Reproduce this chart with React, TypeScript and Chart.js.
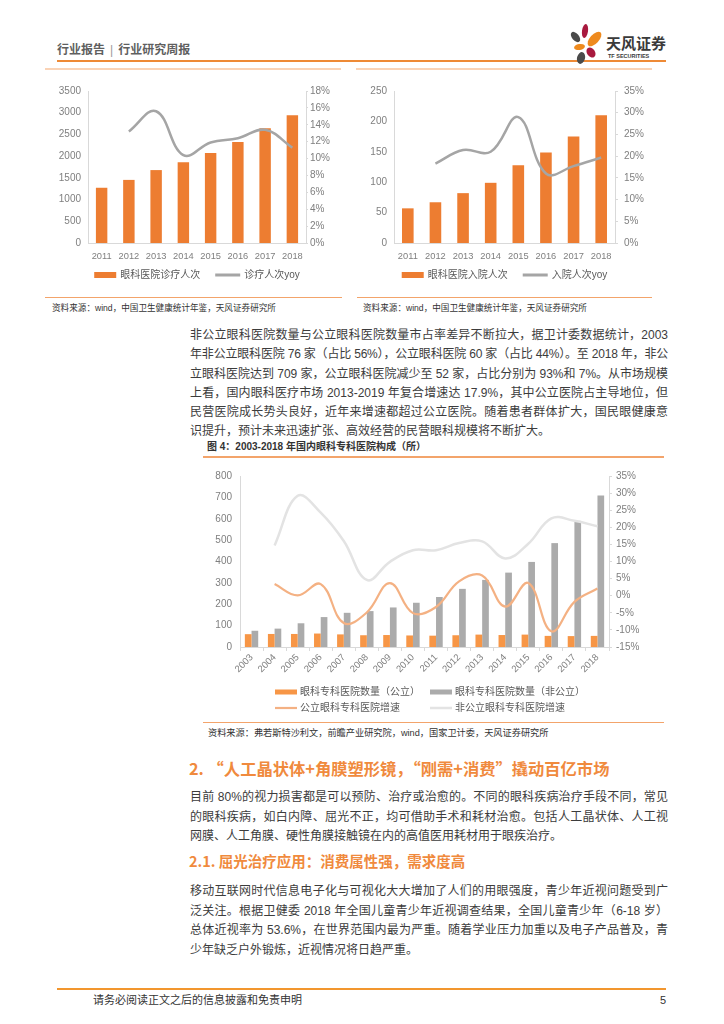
import React, { useEffect, useLayoutEffect, useRef } from 'react';
import { Chart, registerables } from 'chart.js';

Chart.register(...registerables);

// ---------------- data ----------------
const years1 = ['2011', '2012', '2013', '2014', '2015', '2016', '2017', '2018'];
const visitCounts = [1272, 1453, 1679, 1859, 2070, 2326, 2642, 2943];
const visitYoy = [null, 13.2, 15.6, 10.4, 11.9, 12.4, 13.4, 11.3];
const inpatientCounts = [57, 67, 82, 99, 128, 149, 175, 210];
const inpatientYoy = [null, 18.3, 21.4, 21.0, 29.0, 16.0, 17.7, 19.7];

const years3 = ['2003', '2004', '2005', '2006', '2007', '2008', '2009', '2010', '2011', '2012', '2013', '2014', '2015', '2016', '2017', '2018'];
const publicHospitals = [60, 61, 61, 63, 59, 55, 56, 54, 53, 55, 58, 56, 58, 52, 51, 52];
const privateHospitals = [76, 86, 111, 140, 160, 168, 185, 207, 234, 272, 314, 348, 398, 486, 590, 709];
const publicGrowth = [null, 3.4, 0.1, 3.4, -8.0, -4.9, 3.7, -5.1, -3.3, 4.2, 5.9, -3.2, 3.7, -10.4, -1.8, 2.1];
const privateGrowth = [null, 14.7, 29.2, 24.3, 16.0, 4.6, 9.9, 13.3, 13.3, 15.4, 15.9, 10.9, 15.2, 22.6, 21.9, 20.3];

const legend1 = ['眼科医院诊疗人次', '诊疗人次yoy'];
const legend2 = ['眼科医院入院人次', '入院人次yoy'];
const legend3 = ['眼科专科医院数量（公立）', '眼科专科医院数量（非公立）', '公立眼科专科医院增速', '非公立眼科专科医院增速'];

// ---------------- styles ----------------
const FONT = '"Liberation Sans", "Noto Sans CJK SC", sans-serif';
const CJK = '"Noto Sans CJK SC", "Liberation Sans", sans-serif';
Chart.defaults.font.family = FONT;
const AXIS = '#D9D9D9';
const TICK = '#7F7F7F';
const ORANGE = '#ED7D31';
const LEGEND_TEXT = '#595959';

// single-row legend centred under the plot area
const rowLegend = {
  id: 'rowLegend',
  afterDraw(chart: any) {
    const { ctx, chartArea } = chart;
    const ds = chart.data.datasets;
    ctx.save();
    ctx.font = '10px ' + FONT;
    ctx.textBaseline = 'middle';
    ctx.textAlign = 'left';
    const keyW = (d: any) => (d.type === 'bar' ? 22 : 25);
    const gapText = 4;
    const gapItem = 15;
    const widths = ds.map((d: any) => keyW(d) + gapText + ctx.measureText(d.label).width);
    const total = widths.reduce((a: number, b: number) => a + b, 0) + gapItem * (ds.length - 1);
    let x = (chartArea.left + chartArea.right) / 2 - total / 2;
    const y = chartArea.bottom + 32;
    ds.forEach((d: any, i: number) => {
      if (d.type === 'bar') {
        ctx.fillStyle = d.backgroundColor;
        ctx.fillRect(x, y - 3, 22, 6);
      } else {
        ctx.strokeStyle = d.borderColor;
        ctx.lineWidth = 3;
        ctx.beginPath();
        ctx.moveTo(x, y);
        ctx.lineTo(x + 25, y);
        ctx.stroke();
      }
      ctx.fillStyle = LEGEND_TEXT;
      ctx.fillText(d.label, x + keyW(d) + gapText, y);
      x += widths[i] + gapItem;
    });
    ctx.restore();
  },
};

type TopOpts = {
  labels: string[]; bars: number[]; line: (number | null)[]; names: string[];
  leftMax: number; leftStep: number; rightMax: number; rightStep: number;
  leftW: number; rightW: number; rightTick: number; rightPad: number;
};

const topConfig = (o: TopOpts): any => ({
  type: 'bar',
  data: {
    labels: o.labels,
    datasets: [
      {
        type: 'bar', label: o.names[0], data: o.bars, backgroundColor: ORANGE, yAxisID: 'y',
        categoryPercentage: 1, barPercentage: 0.42, order: 2,
      },
      {
        type: 'line', label: o.names[1], data: o.line, borderColor: '#A5A5A5', backgroundColor: '#A5A5A5',
        borderWidth: 2.5, pointRadius: 0, tension: 0.4, yAxisID: 'y1', order: 1,
      },
    ],
  },
  options: {
    animation: false, responsive: false, maintainAspectRatio: false,
    layout: { padding: { top: 10, left: 0, right: 0, bottom: 25 } },
    plugins: { tooltip: { enabled: false }, legend: { display: false } },
    scales: {
      x: {
        grid: { display: false, drawTicks: false }, border: { color: AXIS },
        ticks: { color: TICK, font: { size: 9.3 }, padding: 8, maxRotation: 0, minRotation: 0, autoSkip: false },
        afterFit: (s: any) => { s.height = 22; },
      },
      y: {
        position: 'left', min: 0, max: o.leftMax,
        ticks: { stepSize: o.leftStep, color: TICK, font: { size: 10 }, padding: 7, callback: (v: any) => String(v) },
        grid: { display: false, drawTicks: false }, border: { color: AXIS },
        afterFit: (s: any) => { s.width = o.leftW; },
      },
      y1: {
        position: 'right', min: 0, max: o.rightMax,
        ticks: { stepSize: o.rightStep, color: TICK, font: { size: 10 }, padding: o.rightPad, callback: (v: any) => v + '%' },
        grid: { drawOnChartArea: false, tickLength: o.rightTick, color: AXIS }, border: { color: AXIS },
        afterFit: (s: any) => { s.width = o.rightW; },
      },
    },
  },
  plugins: [rowLegend],
});

// two-by-two legend under the plot area
const gridLegend = {
  id: 'gridLegend',
  afterDraw(chart: any) {
    const { ctx, chartArea } = chart;
    const cols = [chartArea.left + 35, chartArea.left + 190];
    const rows = [chartArea.bottom + 45, chartArea.bottom + 61];
    ctx.save();
    ctx.font = '10px ' + FONT;
    ctx.textBaseline = 'middle';
    ctx.textAlign = 'left';
    chart.data.datasets.forEach((ds: any, i: number) => {
      const x = cols[i % 2];
      const y = rows[Math.floor(i / 2)];
      if (ds.type === 'bar') {
        ctx.fillStyle = ds.backgroundColor;
        ctx.fillRect(x, y - 2.5, 22, 5);
      } else {
        ctx.strokeStyle = ds.borderColor;
        ctx.lineWidth = ds.borderWidth;
        ctx.beginPath();
        ctx.moveTo(x, y);
        ctx.lineTo(x + 22, y);
        ctx.stroke();
      }
      ctx.fillStyle = LEGEND_TEXT;
      ctx.fillText(ds.label, x + 25, y);
    });
    ctx.restore();
  },
};

const bottomConfig = (): any => ({
  type: 'bar',
  data: {
    labels: years3,
    datasets: [
      { type: 'bar', label: legend3[0], data: publicHospitals, backgroundColor: '#F79646', categoryPercentage: 0.58, barPercentage: 1, yAxisID: 'y', order: 2 },
      { type: 'bar', label: legend3[1], data: privateHospitals, backgroundColor: '#ABABAB', categoryPercentage: 0.58, barPercentage: 1, yAxisID: 'y', order: 2 },
      { type: 'line', label: legend3[2], data: publicGrowth, borderColor: '#F4B183', borderWidth: 2.2, pointRadius: 0, tension: 0.4, yAxisID: 'y1', order: 1 },
      { type: 'line', label: legend3[3], data: privateGrowth, borderColor: '#E3E3E3', borderWidth: 2.5, pointRadius: 0, tension: 0.4, yAxisID: 'y1', order: 1 },
    ],
  },
  options: {
    animation: false, responsive: false, maintainAspectRatio: false,
    layout: { padding: { top: 10, left: 0, right: 0, bottom: 41 } },
    plugins: { legend: { display: false }, tooltip: { enabled: false } },
    scales: {
      x: {
        grid: { display: true, drawOnChartArea: false, tickLength: 4, color: AXIS, offset: true },
        border: { color: AXIS },
        ticks: { color: TICK, font: { size: 9.5 }, minRotation: 45, maxRotation: 45, autoSkip: false, padding: 1 },
        afterFit: (s: any) => { s.height = 30; },
      },
      y: {
        position: 'left', min: 0, max: 800,
        ticks: { stepSize: 100, color: TICK, font: { size: 10 }, padding: 8, callback: (v: any) => String(v) },
        grid: { display: false, drawTicks: false }, border: { color: AXIS },
        afterFit: (s: any) => { s.width = 35; },
      },
      y1: {
        position: 'right', min: -15, max: 35,
        ticks: { stepSize: 5, color: TICK, font: { size: 10 }, padding: 4, callback: (v: any) => v + '%' },
        grid: { drawOnChartArea: false, tickLength: 3, color: AXIS }, border: { color: AXIS },
        afterFit: (s: any) => { s.width = 51; },
      },
    },
  },
  plugins: [gridLegend],
});

// ---------------- text ----------------
const para1 = [
  '非公立眼科医院数量与公立眼科医院数量市占率差异不断拉大，据卫计委数据统计，2003',
  '年非公立眼科医院 76 家（占比 56%），公立眼科医院 60 家（占比 44%）。至 2018 年，非公',
  '立眼科医院达到 709 家，公立眼科医院减少至 52 家，占比分别为 93%和 7%。从市场规模',
  '上看，国内眼科医疗市场 2013-2019 年复合增速达 17.9%，其中公立医院占主导地位，但',
  '民营医院成长势头良好，近年来增速都超过公立医院。随着患者群体扩大，国民眼健康意',
  '识提升，预计未来迅速扩张、高效经营的民营眼科规模将不断扩大。',
];
const para2 = [
  '目前 80%的视力损害都是可以预防、治疗或治愈的。不同的眼科疾病治疗手段不同，常见',
  '的眼科疾病，如白内障、屈光不正，均可借助手术和耗材治愈。包括人工晶状体、人工视',
  '网膜、人工角膜、硬性角膜接触镜在内的高值医用耗材用于眼疾治疗。',
];
const para3 = [
  '移动互联网时代信息电子化与可视化大大增加了人们的用眼强度，青少年近视问题受到广',
  '泛关注。根据卫健委 2018 年全国儿童青少年近视调查结果，全国儿童青少年（6-18 岁）',
  '总体近视率为 53.6%，在世界范围内最为严重。随着学业压力加重以及电子产品普及，青',
  '少年缺乏户外锻炼，近视情况将日趋严重。',
];

const abs = (left: number, top: number, extra: React.CSSProperties = {}): React.CSSProperties => ({
  position: 'absolute', left, top, ...extra,
});

function Para({ lines, top, lh = 19.5 }: { lines: string[]; top: number; lh?: number }) {
  return (
    <div style={abs(190, top, { width: 478 })}>
      {lines.map((l, i) => (
        <div
          key={i}
          data-fit="1"
          style={{
            height: lh, lineHeight: lh + 'px', fontSize: 12, whiteSpace: 'nowrap', color: '#3c3c3c',
            textAlign: 'justify', textAlignLast: i < lines.length - 1 ? 'justify' : 'left',
          } as any}
        >
          <span>{l}</span>
        </div>
      ))}
    </div>
  );
}

function Petal({ cx, cy, w, h, rot, color }: { cx: number; cy: number; w: number; h: number; rot: number; color: string }) {
  return (
    <div
      style={abs(cx - w / 2, cy - h / 2, {
        width: w, height: h, borderRadius: '50%', background: color, transform: `rotate(${rot}deg)`,
      })}
    />
  );
}

const srcLine = (left: number, top: number, width: number) => (
  <div style={abs(left, top, { width, height: 1, background: '#F3A46B' })} />
);

export default function App() {
  const c1 = useRef<HTMLCanvasElement>(null);
  const c2 = useRef<HTMLCanvasElement>(null);
  const c3 = useRef<HTMLCanvasElement>(null);

  useEffect(() => {
    const charts = [
      new Chart(c1.current as HTMLCanvasElement, topConfig({
        labels: years1, bars: visitCounts, line: visitYoy, names: legend1,
        leftMax: 3500, leftStep: 500, rightMax: 18, rightStep: 2,
        leftW: 43, rightW: 36, rightTick: 2, rightPad: 2,
      })),
      new Chart(c2.current as HTMLCanvasElement, topConfig({
        labels: years1, bars: inpatientCounts, line: inpatientYoy, names: legend2,
        leftMax: 250, leftStep: 50, rightMax: 35, rightStep: 5,
        leftW: 36, rightW: 40, rightTick: 3, rightPad: 6,
      })),
      new Chart(c3.current as HTMLCanvasElement, bottomConfig()),
    ];
    return () => charts.forEach((c) => c.destroy());
  }, []);

  useLayoutEffect(() => {
    document.querySelectorAll('[data-fit]').forEach((el) => {
      const span = el.firstChild as HTMLElement;
      span.style.letterSpacing = '0px';
      const over = span.getBoundingClientRect().width - (el as HTMLElement).clientWidth;
      if (over > 0) {
        const n = (span.textContent || '').length;
        span.style.letterSpacing = -(over + 1) / n + 'px';
      }
    });
  }, []);

  const heading: React.CSSProperties = { color: '#F08A3D', fontWeight: 700, whiteSpace: 'nowrap', lineHeight: '20px', fontFamily: CJK };

  return (
    <div style={{ position: 'absolute', left: 0, top: 0, width: 724, height: 1024, background: '#fff', fontFamily: FONT, overflow: 'hidden' }}>
      {/* header */}
      <div style={abs(57, 42, { fontSize: 12, fontWeight: 700, color: '#5f5f5f', lineHeight: '17px', whiteSpace: 'nowrap' })}>
        行业报告<span style={{ color: '#9a9a9a', fontWeight: 400, margin: '0 5px' }}>|</span>行业研究周报
      </div>
      <div style={abs(57, 60, { width: 609, height: 2, background: '#EE8A36' })} />
      <div style={abs(45, 68, { width: 296, height: 2, background: '#FAD3B6' })} />
      <div style={abs(356, 68, { width: 296, height: 2, background: '#FAD3B6' })} />

      {/* logo */}
      <Petal cx={584.5} cy={30.5} w={6} h={14} rot={8} color="#A8193E" />
      <Petal cx={594} cy={39} w={9} h={18} rot={42} color="#EE8A1E" />
      <Petal cx={575} cy={37} w={7} h={12} rot={-40} color="#4A4A4A" />
      <Petal cx={579} cy={47} w={11} h={6} rot={-10} color="#EE8A1E" />
      <Petal cx={591} cy={52} w={8} h={11} rot={-35} color="#A8193E" />
      <Petal cx={581} cy={57.5} w={8} h={12} rot={15} color="#4A4A4A" />
      <div style={abs(606, 34, { fontSize: 15, fontWeight: 700, color: '#3a3a3a', lineHeight: '18px', fontFamily: CJK, whiteSpace: 'nowrap' })}>天风证券</div>
      <div style={abs(608, 52.5, { fontSize: 5.5, fontWeight: 700, color: '#3a3a3a', lineHeight: '6px', whiteSpace: 'nowrap' })}>TF SECURITIES</div>

      {/* top charts */}
      <canvas ref={c1} width={297} height={212} style={abs(45, 78)} />
      <canvas ref={c2} width={297} height={212} style={abs(358, 78)} />
      {srcLine(45, 297, 297)}
      {srcLine(357, 297, 295)}
      <div style={abs(52, 302, { fontSize: 8.6, color: '#333', lineHeight: '12px', whiteSpace: 'nowrap' })}>资料来源：wind，中国卫生健康统计年鉴，天风证券研究所</div>
      <div style={abs(363, 302, { fontSize: 8.6, color: '#333', lineHeight: '12px', whiteSpace: 'nowrap' })}>资料来源：wind，中国卫生健康统计年鉴，天风证券研究所</div>

      <Para lines={para1} top={326} lh={19.3} />

      {/* figure 4 */}
      <div style={abs(207, 440, { fontSize: 10, fontWeight: 700, color: '#333', lineHeight: '14px', whiteSpace: 'nowrap' })}>图 4：2003-2018 年国内眼科专科医院构成（所）</div>
      <div style={abs(203, 456, { width: 461, height: 1.5, background: '#F3A46B' })} />
      <canvas ref={c3} width={455} height={256} style={abs(205, 462)} />
      {srcLine(203, 722, 461)}
      <div style={abs(208, 727, { fontSize: 9.2, color: '#333', lineHeight: '12px', whiteSpace: 'nowrap' })}>资料来源：弗若斯特沙利文，前瞻产业研究院，wind，国家卫计委，天风证券研究所</div>

      {/* section 2 */}
      <div style={abs(189, 758, { ...heading, fontSize: 16.3 })}>2. “人工晶状体+角膜塑形镜，“刚需+消费”撬动百亿市场</div>
      <Para lines={para2} top={788} />
      <div style={abs(189, 851, { ...heading, fontSize: 14.5 })}>2.1. 屈光治疗应用：消费属性强，需求度高</div>
      <Para lines={para3} top={882} />

      {/* footer */}
      <div style={abs(57, 988, { width: 609, height: 2, background: '#F2962E' })} />
      <div style={abs(93, 993, { fontSize: 11, color: '#333', lineHeight: '14px', whiteSpace: 'nowrap' })}>请务必阅读正文之后的信息披露和免责申明</div>
      <div style={abs(660, 993, { fontSize: 11, color: '#333', lineHeight: '14px' })}>5</div>
    </div>
  );
}
